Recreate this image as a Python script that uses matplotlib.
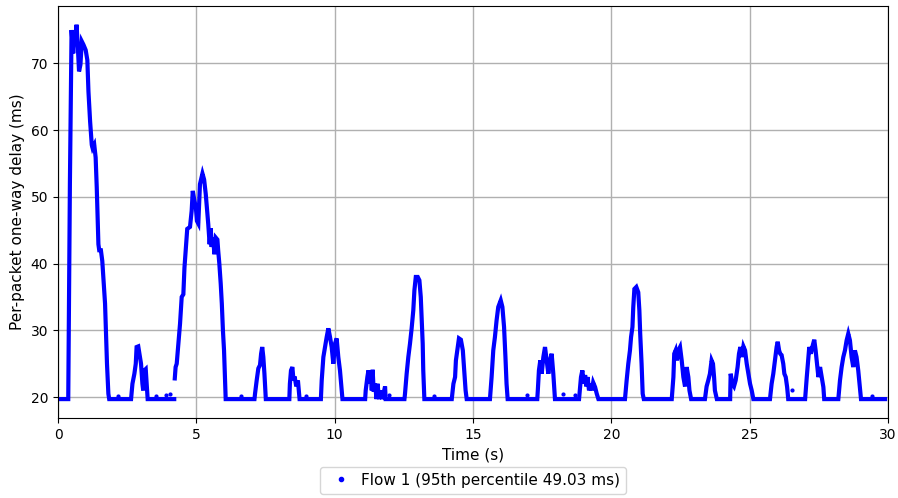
import numpy as np
import matplotlib
matplotlib.use('Agg')
import matplotlib.pyplot as plt
from matplotlib.lines import Line2D

BASE = 19.7
nan = float('nan')

# traced (time, delay) samples, nan marks a break in the trace
time_s = [
    0.07, 0.37, 0.40, 0.43, 0.47, 0.49, 0.55, 0.59, 0.64, 0.67, 0.71, 0.76,
    0.81, 0.86, 0.92, 1.00, 1.06, 1.10, 1.16, 1.22, 1.25, 1.31, 1.36, 1.40,
    1.43, 1.46, 1.49, 1.55, 1.60, 1.64, 1.70, 1.73, 1.77, 1.82, 1.85, 1.88,
    2.64, 2.69, 2.76, 2.81, 2.84, 2.90, 2.96, 3.00, 3.05, 3.08, 3.12, 3.17,
    3.21, 3.24, 4.20, nan,
    4.22, 4.25, 4.29, 4.35, 4.41, 4.47, 4.53, 4.57, 4.63, 4.67, 4.77, 4.83,
    4.87, 4.93, 4.98, 5.02, 5.07, 5.13, 5.22, 5.28, 5.34, 5.38, 5.43, 5.48,
    5.52, 5.55, 5.61, 5.65, 5.70, 5.76, 5.79, 5.83, 5.88, 5.92, 5.96, 6.00,
    6.04, 6.06,
    7.10, 7.12, 7.18, 7.24, 7.30, 7.34, 7.38, 7.42, 7.46, 7.51,
    8.36, 8.38, 8.42, 8.47, 8.51, 8.55, 8.61, 8.67, 8.73,
    9.50, 9.53, 9.59, 9.65, 9.71, 9.77, 9.83, 9.89, 9.95, 10.01, 10.07,
    10.13, 10.19, 10.25, 10.28,
    11.10, 11.12, 11.18, 11.22, 11.25, 11.30, 11.34, 11.37, 11.41, 11.46,
    11.51, 11.55, 11.60, 11.67, 11.72, 11.82, 11.84,
    12.52, 12.54, 12.60, 12.66, 12.72, 12.78, 12.84, 12.88, 12.93, 13.00,
    13.06, 13.11, 13.14, 13.18, 13.20, 13.24,
    14.23, 14.29, 14.35, 14.38, 14.43, 14.49, 14.56, 14.63, 14.68, 14.73,
    14.77,
    15.61, 15.67, 15.73, 15.79, 15.85, 15.91, 16.00, 16.06, 16.12, 16.17,
    16.21, 16.25,
    17.32, 17.34, 17.38, 17.43, 17.48, 17.54, 17.60, 17.66, 17.72, 17.78,
    17.84, 17.90, 17.96,
    18.83, 18.90, 18.95, 19.00, 19.05, 19.09, 19.14, 19.19, 19.24, 19.29,
    19.34, 19.41, 19.47, 19.53,
    20.49, 20.55, 20.61, 20.67, 20.71, 20.76, 20.79, 20.83, 20.90, 20.97,
    21.01, 21.04, 21.09, 21.13, 21.17,
    22.18, 22.24, 22.27, 22.32, 22.37, 22.42, 22.48, 22.54, 22.60, 22.66,
    22.72, 22.78, 22.82, 22.88,
    23.38, 23.44, 23.50, 23.56, 23.62, 23.67, 23.71, 23.74, 23.81,
    24.29, 24.31, 24.37, 24.43, 24.49, 24.56, 24.61, 24.66, 24.71, 24.77,
    24.83, 24.89, 24.95, 25.01, 25.07, 25.13,
    25.73, 25.79, 25.85, 25.91, 25.97, 26.01, 26.06, 26.10, 26.15, 26.21,
    26.25, 26.30, 26.35, 26.39,
    27.00, 27.06, 27.12, 27.15, 27.21, 27.26, 27.33, 27.38, 27.43, 27.48,
    27.54, 27.60, 27.66, 27.69,
    28.20, 28.26, 28.32, 28.38, 28.44, 28.50, 28.56, 28.62, 28.68, 28.74,
    28.80, 28.86, 28.92, 28.98, 29.02, 29.89,
]
delay_ms = [
    BASE, BASE, 36.5, 52.1, 68.3, 75.0, 71.5, 74.6, 73.0, 75.8, 73.0, 68.8,
    69.8, 73.3, 72.8, 72.0, 70.5, 65.8, 61.3, 57.8, 57.3, 57.8, 55.9, 51.4,
    46.9, 42.9, 42.0, 42.0, 40.4, 37.9, 34.0, 30.0, 25.0, 20.5, BASE, BASE,
    BASE, 22.0, 23.5, 25.0, 27.5, 27.6, 26.0, 25.0, 22.0, 21.0, 24.0, 24.2,
    21.5, BASE, BASE, nan,
    22.8, 24.5, 25.0, 28.0, 31.0, 35.0, 35.4, 39.4, 43.0, 45.2, 45.5, 47.9,
    50.9, 49.4, 48.5, 46.4, 46.0, 51.9, 53.5, 52.6, 50.4, 48.4, 45.9, 42.9,
    45.3, 42.5, 43.9, 41.4, 43.9, 43.6, 41.9, 40.0, 37.0, 34.0, 30.0, 27.0,
    22.0, BASE,
    BASE, 20.5, 22.5, 24.3, 24.8, 26.5, 27.5, 26.0, 23.5, BASE,
    BASE, 22.0, 24.0, 24.5, 22.5, 23.1, 21.6, 22.5, BASE,
    BASE, 22.5, 26.0, 27.5, 29.0, 30.3, 29.0, 27.5, 25.0, 28.0, 28.8,
    26.0, 24.0, 21.0, BASE,
    BASE, 21.0, 23.0, 24.0, 22.0, 23.9, 21.0, 24.1, 20.8, 22.0,
    BASE, 22.0, BASE, 21.0, BASE, 21.6, BASE,
    BASE, 20.5, 23.5, 26.0, 28.0, 30.3, 33.0, 36.0, 38.0, 38.0,
    37.5, 35.0, 32.0, 28.0, 24.0, BASE,
    BASE, 22.0, 23.0, 25.5, 27.0, 28.8, 28.6, 27.0, 24.0, 21.0,
    BASE,
    BASE, 23.0, 27.0, 29.0, 31.5, 33.5, 34.5, 33.5, 30.5, 26.0,
    22.0, BASE,
    BASE, 21.0, 24.0, 25.5, 23.5, 26.0, 27.5, 25.5, 23.5, 25.5,
    26.5, 23.5, BASE,
    BASE, 23.0, 24.0, 22.0, 23.3, 21.6, 23.0, 21.0, 22.0, 21.0,
    22.2, 21.5, 20.5, BASE,
    BASE, 22.5, 25.0, 27.0, 29.0, 30.5, 33.5, 36.2, 36.5, 35.7,
    33.0, 29.5, 25.0, 20.5, BASE,
    BASE, 23.0, 26.5, 27.0, 25.5, 27.0, 27.5, 25.5, 23.0, 21.6,
    24.5, 23.0, 21.0, BASE,
    BASE, 21.6, 22.5, 23.5, 25.5, 25.0, 23.0, 21.0, BASE,
    BASE, 23.5, 22.0, 21.6, 22.5, 24.5, 26.5, 27.5, 26.0, 27.6,
    27.0, 25.0, 23.5, 22.0, 21.0, BASE,
    BASE, 22.0, 23.5, 25.5, 27.5, 28.3, 27.0, 26.5, 26.3, 25.0,
    23.5, 23.0, 21.5, BASE,
    BASE, 23.0, 26.0, 27.5, 26.5, 27.5, 28.6, 27.0, 25.0, 23.0,
    24.5, 23.0, 21.5, BASE,
    BASE, 22.5, 24.5, 26.0, 27.0, 28.5, 29.5, 28.5, 26.0, 24.5,
    27.0, 26.0, 24.0, 21.5, BASE, BASE,
]

# a few stray packets sitting just above the baseline
stray_t = [2.18, 3.55, 3.90, 4.05, 6.60, 8.95, 11.95, 13.60, 16.95, 18.26, 18.68, 26.54, 29.40]
stray_d = [20.2, 20.2, 20.3, 20.4, 20.2, 20.2, 20.3, 20.2, 20.3, 20.4, 20.3, 21.0, 20.2]

fig, ax = plt.subplots(figsize=(8.98, 4.98), dpi=100)
fig.subplots_adjust(left=0.0646, right=0.989, top=0.988, bottom=0.161)

ax.plot(time_s, delay_ms, color='blue', lw=3.0, solid_joinstyle='miter')
ax.plot(stray_t, stray_d, ls='', marker='.', ms=4, color='blue')

ax.set_xlim(0, 30)
ax.grid(True, color='#b0b0b0', lw=1)
ax.set_axisbelow(True)
ax.set_xlabel('Time (s)', fontsize=11)
ax.set_ylabel('Per-packet one-way delay (ms)', fontsize=11)
ax.tick_params(labelsize=10)

handle = Line2D([], [], ls='', marker='.', ms=6, color='blue')
ax.legend([handle], ['Flow 1 (95th percentile 49.03 ms)'], loc='upper center',
          bbox_to_anchor=(0.5, -0.1), fontsize=11, handletextpad=0.3)

plt.savefig('out.png')
